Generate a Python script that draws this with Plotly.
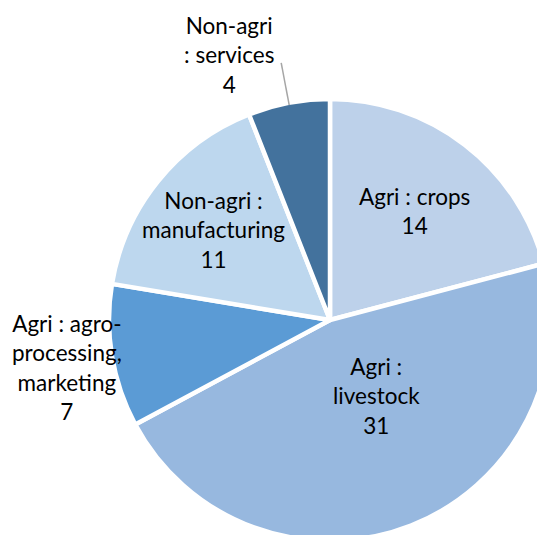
import math
import plotly.graph_objects as go

# Data
categories = [
    "Agri : crops",
    "Agri : livestock",
    "Agri : agro-processing, marketing",
    "Non-agri : manufacturing",
    "Non-agri : services",
]
values = [14, 31, 7, 11, 4]
label_lines = [
    "Agri : crops",
    "Agri :<br>livestock",
    "Agri : agro-<br>processing,<br>marketing",
    "Non-agri :<br>manufacturing",
    "Non-agri<br>: services",
]

# Styling
colors = ["#BDD1EA", "#97B8DF", "#5B9BD5", "#BDD7EE", "#43729D"]
label_radius = [0.63, 0.40, 1.22, 0.68, 1.30]     # fraction of pie radius
label_shift = [(0, 0), (14, 5), (0, -4), (-1, -4), (-48, -14)]  # pixel nudges (x, y-up)

W, H = 560, 550
CX, CY, R = 330, 320, 221          # pie centre / radius in pixels (top-left origin)
BORDER = 4.5

dom_x = [(CX - R) / W, (CX + R) / W]
dom_y = [1 - (CY + R) / H, 1 - (CY - R) / H]

fig = go.Figure(
    go.Pie(
        labels=categories,
        values=values,
        sort=False,
        direction="clockwise",
        rotation=0,
        textinfo="none",
        hoverinfo="label+value",
        showlegend=False,
        marker=dict(colors=colors, line=dict(color="white", width=BORDER)),
        domain=dict(x=dom_x, y=dom_y),
    )
)

total = sum(values)
r_vis = R - BORDER / 2


def to_paper(angle_deg, dist):
    a = math.radians(angle_deg)
    px = CX + dist * math.sin(a)
    py = CY - dist * math.cos(a)
    return px / W, 1 - py / H


cum = 0
annotations = []
for name, val, frac, (sx, sy) in zip(label_lines, values, label_radius, label_shift):
    mid = (cum + val / 2) / total * 360
    cum += val
    x, y = to_paper(mid, frac * r_vis)
    annotations.append(
        dict(
            x=x, y=y, xref="paper", yref="paper",
            text=f"{name}<br>{val}",
            showarrow=False,
            xshift=sx, yshift=sy,
            xanchor="center", yanchor="middle",
            font=dict(family="Lato, Carlito, sans-serif", size=22.5, color="#000000"),
        )
    )

# Leader line for the small "services" slice
mid_services = (total - values[-1] / 2) / total * 360
x0, y0 = to_paper(mid_services, r_vis)
x1, y1 = to_paper(mid_services, r_vis + 43)
fig.add_shape(type="line", xref="paper", yref="paper",
              x0=x0, y0=y0, x1=x1, y1=y1,
              line=dict(color="#A6A6A6", width=1.5))

fig.update_layout(
    width=W,
    height=H,
    margin=dict(l=0, r=0, t=0, b=0),
    paper_bgcolor="white",
    plot_bgcolor="white",
    annotations=annotations,
)

fig.write_html(
    "out.html",
    post_script="document.documentElement.style.overflow='hidden';document.body.style.overflow='hidden';",
)
